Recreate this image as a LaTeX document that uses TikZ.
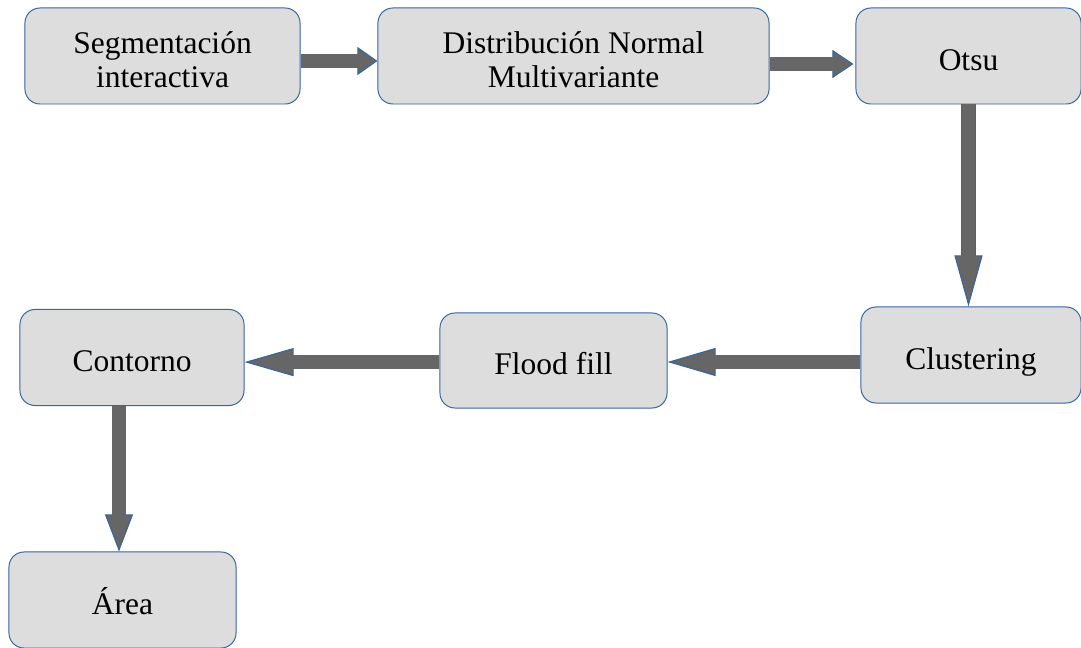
\documentclass[tikz,border=0pt]{standalone}
\usepackage{fontspec}
\setmainfont{Liberation Serif}
\usetikzlibrary{arrows.meta}

\definecolor{flujofondo}{RGB}{221,221,221}
\definecolor{flujoborde}{RGB}{52,101,164}
\definecolor{flujoflecha}{RGB}{102,102,102}

\begin{document}
\begin{tikzpicture}[
		x=0.025cm, y=-0.025cm,
		font=\fontsize{22.4pt}{24.2pt}\selectfont,
		etapa/.style={rectangle, rounded corners=0.375cm, draw=flujoborde, line width=0.7pt,
			fill=flujofondo, align=center, minimum height=2.4cm, inner sep=2pt},
		linea/.style={etapa, text height=24pt, text depth=4pt},
		flecha/.style={draw=flujoborde, line width=0.37cm,
			-{Triangle[length=#1, width=0.7cm, line width=0.7pt, fill=flujoflecha]},
			postaction={draw=flujoflecha, line width=0.33cm, -, shorten >=#1-0.06cm}}
	]
		\useasboundingbox (0,0) rectangle (1081,648);
		% fila superior
		\node[etapa, minimum width=6.875cm] (seg) at (162.5,56) {\rule{0pt}{0.72cm}Segmentación\\interactiva};
		\node[etapa, minimum width=9.775cm] (dnm) at (573.5,56) {\rule{0pt}{0.72cm}Distribución Normal\\Multivariante};
		\node[linea, minimum width=5.625cm] (otsu) at (968.5,56) {Otsu};
		% fila media
		\node[linea, minimum width=5.5cm] (clus) at (971,355) {Clustering};
		\node[linea, minimum width=5.675cm, minimum height=2.375cm] (flood) at (553.5,360.5) {Flood fill};
		\node[linea, minimum width=5.6cm] (cont) at (132,357.5) {Contorno};
		% fila inferior
		\node[linea, minimum width=5.675cm] (area) at (122.5,600) {Área};
		% flechas
		\draw[flecha=0.5cm] ([yshift=-0.125cm]seg.east) -- ([yshift=-0.125cm]dnm.west);
		\draw[flecha=0.525cm] ([yshift=-0.2cm]dnm.east) -- ([yshift=-0.2cm,xshift=-0.05cm]otsu.west);
		\draw[flecha=1.275cm] (otsu.south) -- (otsu.south |- clus.north);
		\draw[flecha=1.2cm] ([yshift=-0.175cm]clus.west) -- ([yshift=-0.175cm]clus.west -| flood.east);
		\draw[flecha=1.225cm] ([yshift=-0.04cm]flood.west) -- ([yshift=-0.04cm]flood.west -| cont.east);
		\draw[flecha=0.925cm] ([xshift=-0.325cm]cont.south) -- ([xshift=-0.325cm]cont.south |- area.north);
	\end{tikzpicture}
\end{document}
